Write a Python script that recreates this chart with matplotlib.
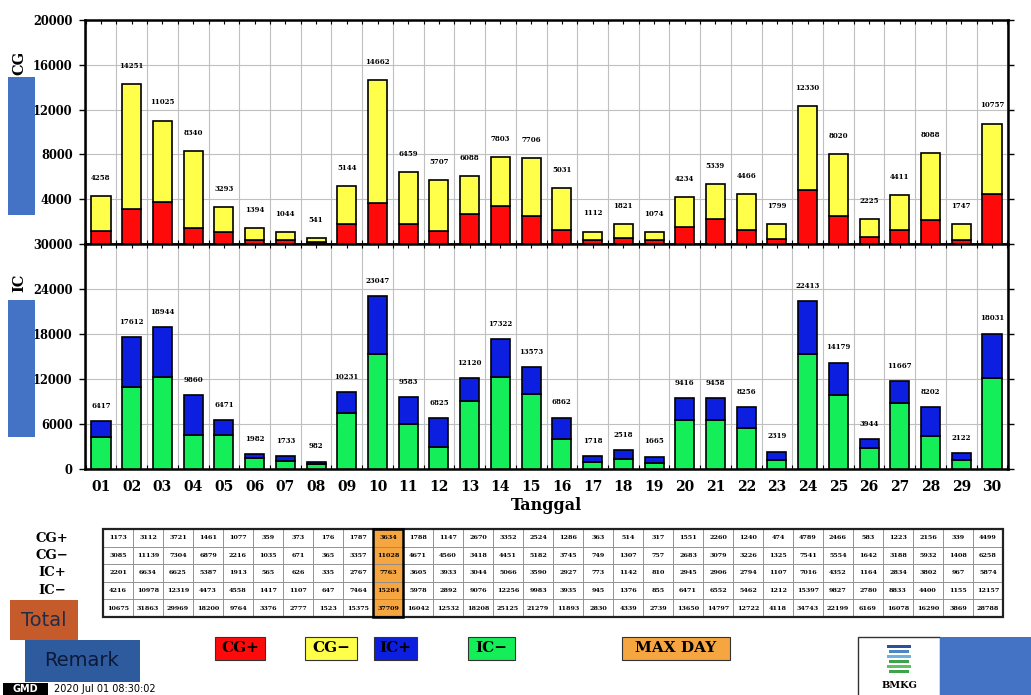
import numpy as np
import matplotlib
matplotlib.use('Agg')
import matplotlib.pyplot as plt
from matplotlib.patches import Rectangle

# daily lightning counts, June 2020
days = ['%02d' % d for d in range(1, 31)]
cg_pos = [1173, 3112, 3721, 1461, 1077, 359, 373, 176, 1787, 3634, 1788, 1147, 2670, 3352, 2524,
          1286, 363, 514, 317, 1551, 2260, 1240, 474, 4789, 2466, 583, 1223, 2156, 339, 4499]
cg_neg = [3085, 11139, 7304, 6879, 2216, 1035, 671, 365, 3357, 11028, 4671, 4560, 3418, 4451, 5182,
          3745, 749, 1307, 757, 2683, 3079, 3226, 1325, 7541, 5554, 1642, 3188, 5932, 1408, 6258]
ic_pos = [2201, 6634, 6625, 5387, 1913, 565, 626, 335, 2767, 7763, 3605, 3933, 3044, 5066, 3590,
          2927, 773, 1142, 810, 2945, 2906, 2794, 1107, 7016, 4352, 1164, 2834, 3802, 967, 5874]
ic_neg = [4216, 10978, 12319, 4473, 4558, 1417, 1107, 647, 7464, 15284, 5978, 2892, 9076, 12256, 9983,
          3935, 945, 1376, 855, 6471, 6552, 5462, 1212, 15397, 9827, 2780, 8833, 4400, 1155, 12157]
row_names = ['CG+', 'CG\u2212', 'IC+', 'IC\u2212', 'Total']

RED, YEL, BLU, GRN, ORG = '#ff0a0a', '#ffff4a', '#0c1ee0', '#14ee58', '#f5a640'
SERIF = 'DejaVu Serif'

cg_tot = np.array(cg_pos) + np.array(cg_neg)
ic_tot = np.array(ic_pos) + np.array(ic_neg)
total = cg_tot + ic_tot
max_day = int(np.argmax(total))

W, H = 1031, 695
fig = plt.figure(figsize=(W / 100, H / 100), dpi=100)


def box(x0, y0, x1, y1):
    return [x0 / W, 1 - y1 / H, (x1 - x0) / W, (y1 - y0) / H]


def rect(x0, y0, x1, y1, fc, ec='none', lw=0, z=10):
    b = box(x0, y0, x1, y1)
    fig.add_artist(Rectangle((b[0], b[1]), b[2], b[3], transform=fig.transFigure,
                             facecolor=fc, edgecolor=ec, linewidth=lw, zorder=z))


def ftext(x, y, s, **kw):
    fig.text(x / W, 1 - y / H, s, **kw)


x = np.arange(1, 31)


def style_ax(ax, ymax, ticks):
    ax.set_xlim(0.48, 30.52)
    ax.set_ylim(0, ymax)
    ax.set_yticks(ticks)
    ax.set_yticklabels([str(t) for t in ticks], fontfamily=SERIF, fontweight='bold', fontsize=8.3)
    ax.set_xticks(x)
    ax.set_xticks(np.arange(0.5, 31, 1), minor=True)
    ax.grid(axis='x', which='minor', color='#c0c0c0', lw=0.8, zorder=0)
    ax.grid(axis='y', which='major', color='#c0c0c0', lw=0.8, zorder=0)
    ax.set_axisbelow(True)
    for s in ax.spines.values():
        s.set_linewidth(1.8)
    ax.tick_params(axis='y', right=True, direction='out', length=4, width=1, pad=5)
    ax.tick_params(axis='x', which='both', top=True, direction='in', length=3, width=0.8)


ax_cg = fig.add_axes(box(85, 20, 1008, 244))
ax_cg.bar(x, cg_pos, width=0.62, color=RED, edgecolor='black', lw=1.2, zorder=3)
ax_cg.bar(x, cg_neg, bottom=cg_pos, width=0.62, color=YEL, edgecolor='black', lw=1.2, zorder=3)
style_ax(ax_cg, 20000, [4000, 8000, 12000, 16000, 20000])
ax_cg.set_xticklabels([])
for xi, v in zip(x, cg_tot):
    ax_cg.annotate(str(v), (xi, v), xytext=(0, 13), textcoords='offset points', ha='center',
                   va='center', fontsize=5, fontfamily=SERIF, fontweight='bold')

ax_ic = fig.add_axes(box(85, 244, 1008, 469))
ax_ic.bar(x, ic_neg, width=0.62, color=GRN, edgecolor='black', lw=1.2, zorder=3)
ax_ic.bar(x, ic_pos, bottom=ic_neg, width=0.62, color=BLU, edgecolor='black', lw=1.2, zorder=3)
style_ax(ax_ic, 30000, [0, 6000, 12000, 18000, 24000, 30000])
ax_ic.set_xticklabels(days, fontfamily=SERIF, fontweight='bold', fontsize=10)
ax_ic.tick_params(axis='x', pad=8)
for xi, v in zip(x, ic_tot):
    ax_ic.annotate(str(v), (xi, v), xytext=(0, 11), textcoords='offset points', ha='center',
                   va='center', fontsize=5, fontfamily=SERIF, fontweight='bold')
ax_ic.set_xlabel('Tanggal', fontfamily=SERIF, fontweight='bold', fontsize=11.5, labelpad=2)

ftext(19, 63, 'CG', rotation=90, ha='center', va='center', fontfamily=SERIF, fontweight='bold', fontsize=10.5)
ftext(19, 283, 'IC', rotation=90, ha='center', va='center', fontfamily=SERIF, fontweight='bold', fontsize=10.5)

# blue side tabs
rect(8, 77, 35, 215, '#4472c4')
rect(8, 300, 35, 437, '#4472c4')

# data table
ax_t = fig.add_axes(box(103, 529, 1003, 617))
ax_t.axis('off')
cells = [[str(v) for v in row] for row in (cg_pos, cg_neg, ic_pos, ic_neg, total)]
colours = [['white' if j != max_day else ORG for j in range(30)] for _ in range(5)]
tab = ax_t.table(cellText=cells, cellColours=colours, cellLoc='center', bbox=[0, 0, 1, 1])
tab.auto_set_font_size(False)
for (r, c), cell in tab.get_celld().items():
    cell.set_edgecolor('#8a8a8a')
    cell.set_linewidth(0.6)
    cell.get_text().set_fontsize(4.6)
    cell.get_text().set_fontfamily(SERIF)
    cell.get_text().set_fontweight('bold')
ax_t.add_patch(Rectangle((0, 0), 1, 1, transform=ax_t.transAxes, fill=False, lw=1.6,
                         edgecolor='#222222', clip_on=False, zorder=5))
ax_t.add_patch(Rectangle((max_day / 30, 0), 1 / 30, 1, transform=ax_t.transAxes, fill=False,
                         lw=1.8, edgecolor='black', clip_on=False, zorder=6))
for i, name in enumerate(row_names[:4]):
    ftext(52, 538 + i * 17.5, name, ha='center', va='center', fontfamily=SERIF,
          fontweight='bold', fontsize=9.5)

# Total / Remark boxes
rect(10, 600, 78, 640, '#c55a2a', z=12)
ftext(44, 620, 'Total', ha='center', va='center', fontsize=14, color='#1f2d4a', zorder=13)
rect(25, 640, 140, 682, '#2e5a9e', z=12)
ftext(82, 661, 'Remark', ha='center', va='center', fontsize=14, color='#0c1a3a', zorder=13)

# legend swatches
for x0, x1, label, col in [(215, 265, 'CG+', RED), (305, 357, 'CG\u2212', YEL), (374, 417, 'IC+', BLU),
                           (468, 515, 'IC\u2212', GRN), (622, 730, 'MAX DAY', ORG)]:
    rect(x0, 637, x1, 660, col, ec='#333333', lw=0.8)
    ftext((x0 + x1) / 2, 648.5, label, ha='center', va='center', fontfamily=SERIF,
          fontweight='bold', fontsize=11, zorder=13)

# BMKG corner
rect(858, 637, 940, 697, 'white', ec='#333333', lw=1)
rect(940, 637, 1031, 697, '#4472c4')
ftext(899, 686, 'BMKG', ha='center', va='center', fontfamily=SERIF, fontweight='bold', fontsize=7, zorder=13)
for k, c in enumerate(['#2b4f9e', '#4a86c8', '#6fb0e0', '#3fa34d', '#62c060', '#3fa34d']):
    rect(887 + (k % 2) * 2, 645 + k * 5, 911 - (k % 2) * 2, 648 + k * 5, c, z=13)

# timestamp
rect(3, 683, 48, 695, 'black', z=12)
ftext(25, 689, 'GMD', ha='center', va='center', color='white', fontsize=7, fontweight='bold', zorder=13)
ftext(54, 689, '2020 Jul 01 08:30:02', ha='left', va='center', fontsize=7)

fig.savefig('out.png', dpi=100)
